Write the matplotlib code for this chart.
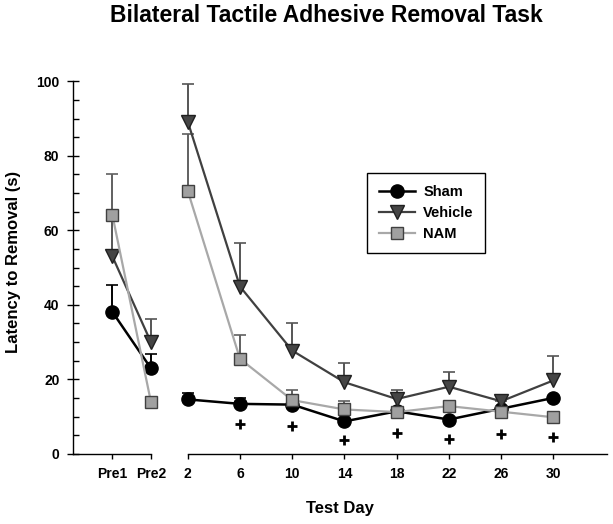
import matplotlib
matplotlib.use("Agg")
import matplotlib.pyplot as plt
from matplotlib.ticker import MultipleLocator

plt.rcParams['font.family'] = ['Liberation Sans', 'DejaVu Sans']
plt.rcParams['font.weight'] = 'bold'

# Data (0 = error bar hidden behind the marker)
day_labels = ['Pre1', 'Pre2', '2', '6', '10', '14', '18', '22', '26', '30']
sham = [38.1, 22.9, 14.6, 13.4, 13.2, 8.7, 11.4, 9.2, 12.1, 15.0]
sham_err = [7.2, 3.9, 1.8, 1.6, 0, 0, 0, 0, 0, 0]
vehicle = [53.0, 29.9, 89.2, 44.9, 27.7, 19.2, 14.7, 18.0, 14.1, 19.7]
vehicle_err = [10.0, 6.4, 10.0, 11.7, 7.4, 5.2, 2.5, 3.9, 0, 6.6]
nam = [64.1, 13.8, 70.6, 25.5, 14.4, 11.9, 11.2, 12.8, 11.3, 9.8]
nam_err = [11.1, 0, 15.3, 6.4, 2.6, 2.2, 0, 0, 0, 0]
plus_labels = ['6', '10', '14', '18', '22', '26', '30']
plus_y = [8.0, 7.4, 3.6, 5.6, 4.1, 5.4, 4.5]

# x positions: pre-test days sit left of the axis break, test days on a day scale
pre_pos = {'Pre1': -3.77, 'Pre2': -0.81}
def xpos(lbl):
    return pre_pos[lbl] if lbl in pre_pos else float(lbl)

x = [xpos(l) for l in day_labels]
x_plus = [xpos(l) for l in plus_labels]
x_left, x_right = -6.76, 34.1

fig = plt.figure(figsize=(6.13, 5.24), dpi=100)
ax = fig.add_axes([0.1196, 0.134, 0.8706, 0.7109])

styles = [
    ("Sham", sham, sham_err, dict(color='black', lw=1.8, marker='o', ms=9.5,
                                 mfc='black', mec='black'), 'black'),
    ("Vehicle", vehicle, vehicle_err, dict(color='#404040', lw=1.6, marker='v', ms=10,
                                          mfc='#454545', mec='#202020'), '#555555'),
    ("NAM", nam, nam_err, dict(color='#a8a8a8', lw=1.6, marker='s', ms=8.5,
                              mfc='#a0a0a0', mec='#404040'), '#606060'),
]

for name, vals, err, st, ecol in styles:
    eb = ax.errorbar(x, vals, yerr=[[0] * len(err), err], fmt='none', ecolor=ecol,
                     elinewidth=1.4, capsize=4, capthick=1.2, zorder=2, clip_on=False)
    # upper error bars only: hide the caps drawn at the data points
    eb[1][0].set_visible(False)

for i, (name, vals, err, st, ecol) in enumerate(styles):
    # two separate segments: pre-test and test days (not joined across the break)
    ax.plot(x[:2], vals[:2], zorder=3 + i, clip_on=False, **st)
    ax.plot(x[2:], vals[2:], zorder=3 + i, clip_on=False, label=name, **st)

ax.plot(x_plus, plus_y, ls='none', marker='+', ms=7, mew=2, color='black', clip_on=False)

ax.set_xlim(x_left, x_right)
ax.set_ylim(0, 100)
ax.set_xticks(x)
ax.set_xticklabels(day_labels)
ax.yaxis.set_major_locator(MultipleLocator(20))
ax.yaxis.set_minor_locator(MultipleLocator(5))

for s in ['top', 'right']:
    ax.spines[s].set_visible(False)
ax.spines['left'].set_linewidth(1.0)
ax.spines['bottom'].set_linewidth(1.0)
ax.spines['bottom'].set_bounds(x_left, x[1])
# second piece of the broken x axis
ax.plot([x[2], x_right], [0, 0], color='black', lw=1.0,
        transform=ax.get_xaxis_transform(), clip_on=False)

ax.tick_params(axis='y', which='major', direction='inout', length=8, width=1.0,
               pad=6, labelsize=10)
ax.tick_params(axis='y', which='minor', direction='in', length=4, width=1.0)
ax.tick_params(axis='x', direction='out', length=3.8, width=1.0, pad=6, labelsize=10)
for lbl in ax.get_xticklabels() + ax.get_yticklabels():
    lbl.set_fontweight('bold')

leg = ax.legend(loc='upper left', bbox_to_anchor=(367 / 613, 1 - 173 / 524),
                bbox_transform=fig.transFigure, borderaxespad=0, fancybox=False,
                framealpha=1, edgecolor='black', prop={'size': 10.5, 'weight': 'bold'},
                handlelength=2.5, handletextpad=0.55, labelspacing=0.5, borderpad=0.8)
leg.get_frame().set_linewidth(1.0)

fig.text(0.532, 1 - 16 / 524, 'Bilateral Tactile Adhesive Removal Task',
         ha='center', va='center', fontsize=16.5, fontweight='bold')
fig.text(340 / 613, 1 - 508 / 524, 'Test Day', ha='center', va='center',
         fontsize=12, fontweight='bold')
fig.text(14 / 613, 1 - 262 / 524, 'Latency to Removal (s)', ha='center', va='center',
         rotation=90, fontsize=12, fontweight='bold')

fig.savefig('out.png', dpi=100)
